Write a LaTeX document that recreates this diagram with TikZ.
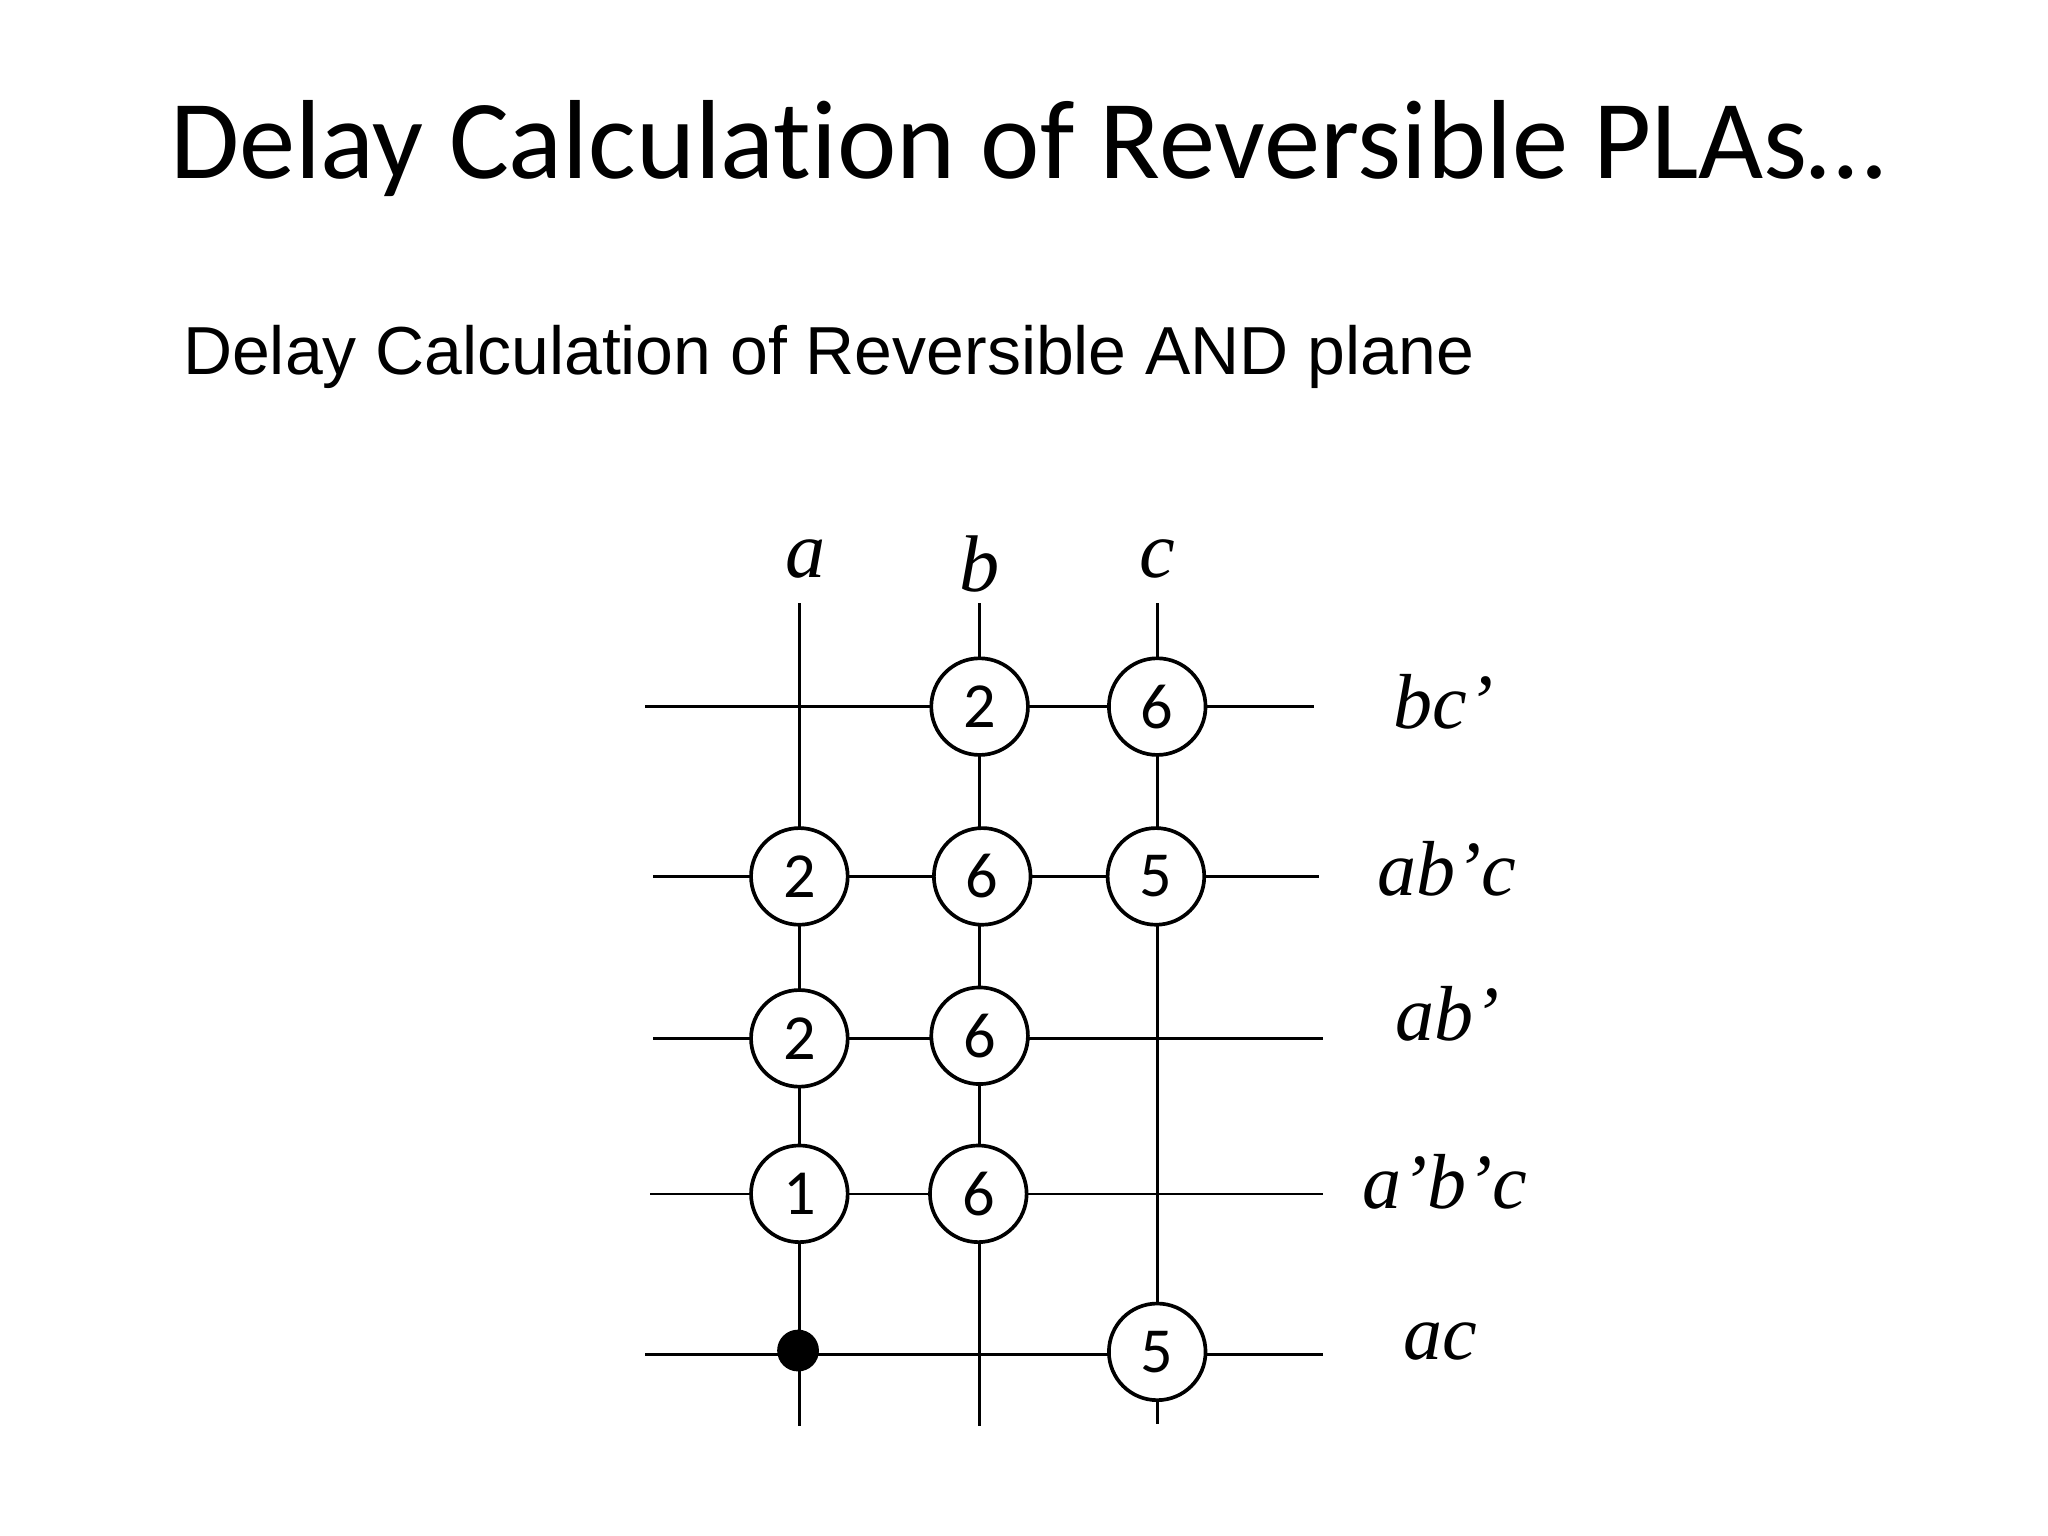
\documentclass[tikz,border=0pt]{standalone}
\usepackage{fontspec}
\setmainfont{Liberation Serif}
\newfontfamily\calfnt[Ligatures={NoCommon}]{Carlito}
\newfontfamily\arifnt{Liberation Sans}
\begin{document}
\begin{tikzpicture}[x=0.02cm,y=-0.02cm,
  ln/.style={line width=1.1pt},
  gate/.style={circle,draw,line width=1.6pt,fill=white,minimum size=74*0.02cm,inner sep=0pt,font=\calfnt\fontsize{28}{28}\selectfont},
  dotn/.style={circle,fill=black,minimum size=32*0.02cm,inner sep=0pt},
  var/.style={font=\itshape\fontsize{35}{35}\selectfont},
  term/.style={font=\itshape\fontsize{34}{34}\selectfont}]
\useasboundingbox (0,0) rectangle (1568,1176);
\node[font=\calfnt\fontsize{49}{49}\selectfont] (title) at (787,114) {Delay Calculation of Reversible PLAs…};
\node[anchor=west,font=\arifnt\fontsize{29.6}{30}\selectfont] (sub) at (134,273) {Delay Calculation of Reversible AND plane};
% vertical lines
\coordinate (at) at (612,462); \coordinate (ab) at (612,1092);
\coordinate (bt) at (750,462); \coordinate (bb) at (750,1092);
\coordinate (ct) at (886,462); \coordinate (cb) at (886,1090);
\draw[ln] (at)--(ab); \draw[ln] (bt)--(bb); \draw[ln] (ct)--(cb);
% horizontal lines
\coordinate (r1l) at (494,541); \coordinate (r1r) at (1006,541);
\coordinate (r2l) at (500,671); \coordinate (r2r) at (1010,671);
\coordinate (r3l) at (500,795); \coordinate (r3r) at (1013,795);
\coordinate (r4l) at (498,914); \coordinate (r4r) at (1013,914);
\coordinate (r5l) at (494,1037); \coordinate (r5r) at (1013,1037);
\foreach \r in {1,...,5}{\draw[ln] (r\r l)--(r\r r);}
% gates
\node[gate] (g12) at (750,541) {2};
\node[gate] (g13) at (886,541) {6};
\node[gate] (g21) at (612,671) {2};
\node[gate] (g22) at (752,671) {6};
\node[gate] (g23) at (885,671) {5};
\node[gate] (g31) at (612,795) {2};
\node[gate] (g32) at (750,793) {6};
\node[gate] (g41) at (612,914) {1};
\node[gate] (g42) at (749,914) {6};
\node[gate] (g53) at (886,1035) {5};
\node[dotn] (d51) at (611,1034) {};
% labels
\node[var] (la) at (617,428) {a};
\node[var] (lb) at (750,432) {b};
\node[var] (lc) at (886,428) {c};
\node[term] (t1) at (1105,537) {bc’};
\node[term] (t2) at (1108,665) {ab’c};
\node[term] (t3) at (1108,776) {ab’};
\node[term] (t4) at (1106,905) {a’b’c};
\node[term] (t5) at (1103,1027) {ac};
\end{tikzpicture}
\end{document}
